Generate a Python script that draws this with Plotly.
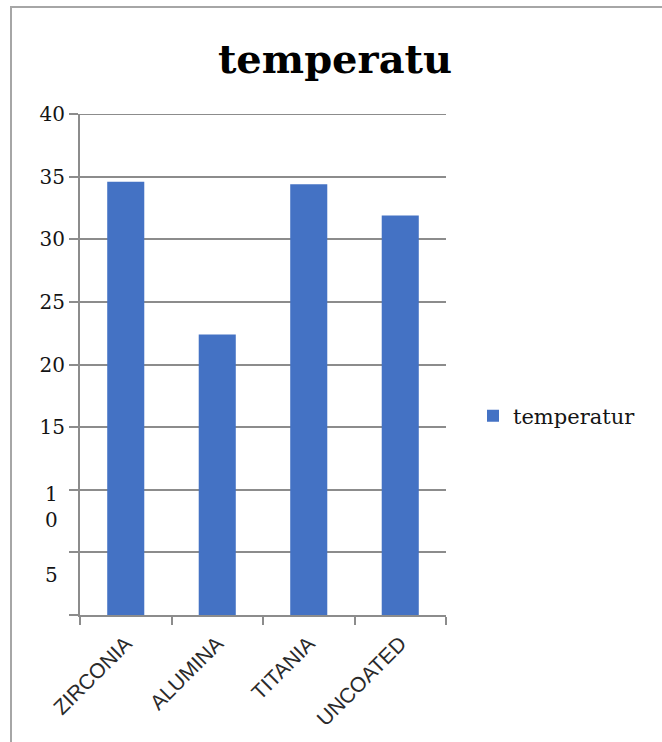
import plotly.graph_objects as go

# Coating types and measured temperature per coating
coatings = ["ZIRCONIA", "ALUMINA", "TITANIA", "UNCOATED"]
temperature = [34.6, 22.4, 34.4, 31.9]

# Value-axis ticks: the upper ones are drawn as regular tick labels,
# the two lower ones are placed as wrapped/offset labels
y_max = 40
y_ticks = [0, 5, 10, 15, 20, 25, 30, 35, 40]
y_tick_text = ["", "", "", "15", "20", "25", "30", "35", "40"]
low_tick_values = [10, 5]
low_tick_text = ["1<br>0", "5"]
low_tick_shift = [10, -23]

W, H = 662, 742
M_L, M_R, M_T, M_B = 80, 216, 114, 127
plot_w = W - M_L - M_R
plot_h = H - M_T - M_B

grid_col = "#8c8c8c"
bar_col = "#4472C4"
serif = "DejaVu Serif"
label_col = "#141414"

fig = go.Figure()
fig.add_trace(go.Bar(
    x=coatings,
    y=temperature,
    name="temperatur",
    marker=dict(color=bar_col, line=dict(width=0)),
))

annotations = []
for v, t, s in zip(low_tick_values, low_tick_text, low_tick_shift):
    annotations.append(dict(
        x=(51 - M_L) / plot_w, xref="paper",
        y=v, yref="y",
        text=t, showarrow=False,
        xanchor="center", yanchor="top" if "<br>" in t else "middle",
        yshift=s,
        font=dict(family=serif, size=20, color=label_col),
    ))

# Outer chart frame (runs off the right and bottom edges)
frame = dict(
    type="rect", xref="paper", yref="paper",
    x0=(11 - M_L) / plot_w, x1=(680 - M_L) / plot_w,
    y0=-(760 - M_T - plot_h) / plot_h, y1=1 + (M_T - 7) / plot_h,
    line=dict(color="#a6a6a6", width=2),
    fillcolor="rgba(0,0,0,0)",
    layer="below",
)

# Gridline at the top of the value range
top_grid = dict(
    type="line", xref="paper", yref="y",
    x0=0, x1=1, y0=y_max, y1=y_max,
    line=dict(color=grid_col, width=2),
    layer="below",
)

fig.update_layout(
    width=W, height=H,
    margin=dict(l=M_L, r=M_R, t=M_T, b=M_B, autoexpand=False),
    paper_bgcolor="white",
    plot_bgcolor="white",
    bargap=0.595,
    title=dict(
        text="<b>temperatu</b>",
        x=335 / W, xanchor="center",
        y=1 - 59 / H, yanchor="middle", yref="container",
        font=dict(family=serif, size=40, color="#000000"),
    ),
    showlegend=True,
    legend=dict(
        x=(473 - M_L) / plot_w, xanchor="left",
        y=(H - M_B - 416) / plot_h, yanchor="middle",
        font=dict(family=serif, size=21, color=label_col),
        itemwidth=30,
        bgcolor="rgba(0,0,0,0)",
    ),
    xaxis=dict(
        tickangle=-45,
        tickfont=dict(family="Liberation Sans", size=21, color="#2a2a2a"),
        ticklabelstandoff=6,
        showline=True, linecolor=grid_col, linewidth=2,
        ticks="outside", tickson="boundaries", ticklen=8,
        tickcolor=grid_col, tickwidth=2,
        showgrid=False,
    ),
    yaxis=dict(
        range=[0, y_max],
        tickvals=y_ticks, ticktext=y_tick_text,
        tickfont=dict(family=serif, size=20, color=label_col),
        showline=True, linecolor=grid_col, linewidth=2,
        ticks="outside", ticklen=9, tickcolor=grid_col, tickwidth=2,
        showgrid=True, gridcolor=grid_col, gridwidth=2,
        zeroline=False,
    ),
    annotations=annotations,
    shapes=[frame, top_grid],
)

fig.write_html("out.html")
